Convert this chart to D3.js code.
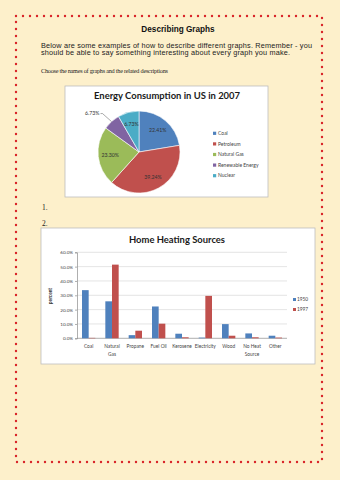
<!DOCTYPE html>
<html>
<head>
<meta charset="utf-8">
<script src="https://cdnjs.cloudflare.com/ajax/libs/d3/7.8.5/d3.min.js"></script>
<style>
  html, body { margin: 0; padding: 0; background: #fdf0cb; }
  svg { display: block; }
</style>
</head>
<body>
<svg id="page" width="340" height="480"></svg>
<script>
// pie data
var energySources = ["Coal", "Petroleum", "Natural Gas", "Renewable Energy", "Nuclear"];
var energyShares = [22.41, 39.24, 23.30, 6.73, 8.32];
var energyLabels = ["22.41%", "39.24%", "23.30%", "6.73%", "8.33%"];

// bar data
var heatCategories = ["Coal", "Natural Gas", "Propane", "Fuel Oil", "Kerosene", "Electricity", "Wood", "No Heat Source", "Other"];
var heatSeries = ["1950", "1997"];
var heat1950 = [33.6, 25.8, 2.2, 22.2, 3.2, 0.5, 9.9, 3.4, 1.8];
var heat1997 = [0.3, 51.4, 5.3, 10.2, 0.7, 29.6, 1.8, 0.7, 0.5];
var heatTicks = [0, 10, 20, 30, 40, 50, 60];

var svg = d3.select("#page");

// dotted red frame
svg.append("rect")
    .attr("x", 16).attr("y", 16)
    .attr("width", 306).attr("height", 446)
    .attr("fill", "none")
    .attr("stroke", "#d9262a")
    .attr("stroke-width", 2.4)
    .attr("stroke-linecap", "round")
    .attr("stroke-dasharray", "0 7");

// worksheet text
svg.append("text")
    .attr("x", 178).attr("y", 32)
    .attr("text-anchor", "middle")
    .attr("font-family", "Liberation Sans, Arial, sans-serif")
    .attr("font-weight", "bold")
    .attr("font-size", 8.2)
    .attr("fill", "#111")
    .text("Describing Graphs");

var intro = ["Below are some examples of how to describe different graphs. Remember - you",
             "should be able to say something interesting about every graph you make."];
svg.selectAll(".intro").data(intro).enter().append("text")
    .attr("class", "intro")
    .attr("x", 41)
    .attr("y", function(d, i) { return 47.5 + i * 7.6; })
    .attr("font-family", "Liberation Sans, Arial, sans-serif")
    .attr("font-size", 7.3)
    .attr("fill", "#222")
    .attr("textLength", function(d, i) { return i === 0 ? 271 : 249; })
    .attr("lengthAdjust", "spacing")
    .text(function(d) { return d; });

svg.append("text")
    .attr("x", 41).attr("y", 73)
    .attr("font-family", "Liberation Serif, Times New Roman, serif")
    .attr("font-size", 6.2)
    .attr("fill", "#222")
    .attr("textLength", 127)
    .attr("lengthAdjust", "spacing")
    .text("Choose the names of graphs and  the related descriptions");

svg.append("text")
    .attr("x", 42).attr("y", 210)
    .attr("font-family", "Liberation Serif, serif")
    .attr("font-size", 7.5)
    .attr("fill", "#222")
    .text("1.");

svg.append("text")
    .attr("x", 42).attr("y", 226)
    .attr("font-family", "Liberation Serif, serif")
    .attr("font-size", 7.5)
    .attr("fill", "#222")
    .text("2.");

// ---------- pie chart ----------
var pieBox = svg.append("g");
pieBox.append("rect")
    .attr("x", 65).attr("y", 86)
    .attr("width", 203).attr("height", 111)
    .attr("fill", "#fff")
    .attr("stroke", "#bdbdbd")
    .attr("stroke-width", 0.8);

pieBox.append("text")
    .attr("x", 167).attr("y", 99)
    .attr("text-anchor", "middle")
    .attr("font-family", "Lato, Open Sans, sans-serif")
    .attr("font-weight", "bold")
    .attr("font-size", 10.2)
    .attr("fill", "#1a1a1a")
    .attr("textLength", 146)
    .attr("lengthAdjust", "spacingAndGlyphs")
    .text("Energy Consumption in US in 2007");

var pieColors = d3.scaleOrdinal()
    .domain(energySources)
    .range(["#4f81bd", "#c0504d", "#9bbb59", "#8064a2", "#4bacc6"]);

var pieData = d3.pie().sort(null).value(function(d) { return d; })(energyShares);
var radius = 41;
var arc = d3.arc().innerRadius(0).outerRadius(radius);
var labelArc = d3.arc().innerRadius(29).outerRadius(29);

var pieG = pieBox.append("g").attr("transform", "translate(139,152)");

pieG.selectAll("path").data(pieData).enter().append("path")
    .attr("d", arc)
    .attr("fill", function(d, i) { return pieColors(energySources[i]); })
    .attr("stroke", "#fff")
    .attr("stroke-width", 0.6);

pieG.selectAll(".plabel").data(pieData).enter().append("text")
    .attr("class", "plabel")
    .filter(function(d, i) { return i !== 3; })
    .attr("transform", function(d) { return "translate(" + labelArc.centroid(d) + ")"; })
    .attr("text-anchor", "middle")
    .attr("dy", "0.35em")
    .attr("font-family", "Lato, sans-serif")
    .attr("font-size", 5.2)
    .attr("fill", "#333")
    .text(function(d, i) { return energyLabels[i]; });

// outside label for renewable
var ren = pieData[3];
var midA = (ren.startAngle + ren.endAngle) / 2;
var edge = [Math.sin(midA) * radius, -Math.cos(midA) * radius];
pieG.append("polyline")
    .attr("points", [edge, [edge[0] - 9, edge[1] - 8], [edge[0] - 11, edge[1] - 8]].join(" "))
    .attr("fill", "none")
    .attr("stroke", "#555")
    .attr("stroke-width", 0.5);
pieG.append("text")
    .attr("x", edge[0] - 12).attr("y", edge[1] - 8)
    .attr("text-anchor", "end")
    .attr("dy", "0.35em")
    .attr("font-family", "Lato, sans-serif")
    .attr("font-size", 5.2)
    .attr("fill", "#333")
    .text(energyLabels[3]);

var pieLegend = pieBox.selectAll(".pleg").data(energySources).enter().append("g")
    .attr("class", "pleg")
    .attr("transform", function(d, i) { return "translate(213," + (133.3 + i * 10.6) + ")"; });
pieLegend.append("rect")
    .attr("x", 0).attr("y", -1.6)
    .attr("width", 3.2).attr("height", 3.2)
    .attr("fill", function(d) { return pieColors(d); });
pieLegend.append("text")
    .attr("x", 5).attr("dy", "0.35em")
    .attr("font-family", "Lato, sans-serif")
    .attr("font-size", 5)
    .attr("fill", "#444")
    .text(function(d) { return d; });

// ---------- bar chart ----------
var barBox = svg.append("g");
barBox.append("rect")
    .attr("x", 41).attr("y", 228)
    .attr("width", 274).attr("height", 136)
    .attr("fill", "#fff")
    .attr("stroke", "#bdbdbd")
    .attr("stroke-width", 0.8);

barBox.append("text")
    .attr("x", 177).attr("y", 243)
    .attr("text-anchor", "middle")
    .attr("font-family", "Lato, Open Sans, sans-serif")
    .attr("font-weight", "bold")
    .attr("font-size", 9.6)
    .attr("fill", "#1a1a1a")
    .attr("textLength", 96)
    .attr("lengthAdjust", "spacingAndGlyphs")
    .text("Home Heating Sources");

var x0 = d3.scaleBand().domain(heatCategories).range([77, 287]);
var x1 = d3.scaleBand().domain(heatSeries).range([0, x0.bandwidth()]).paddingOuter(0.75);
var y = d3.scaleLinear().domain([0, 60]).range([338.3, 252.3]);
var barColors = d3.scaleOrdinal().domain(heatSeries).range(["#4f81bd", "#c0504d"]);

// grid
barBox.selectAll(".grid").data(heatTicks).enter().append("line")
    .attr("class", "grid")
    .attr("x1", 77).attr("x2", 287)
    .attr("y1", function(d) { return y(d); })
    .attr("y2", function(d) { return y(d); })
    .attr("stroke", function(d) { return d === 0 ? "#8c8c8c" : "#d9d9d9"; })
    .attr("stroke-width", 0.7);

var yAxis = d3.axisLeft(y)
    .tickValues(heatTicks)
    .tickSize(2)
    .tickFormat(function(d) { return d3.format(".1%")(d / 100); });
var yG = barBox.append("g").attr("transform", "translate(77,0)").call(yAxis);
yG.select(".domain").attr("stroke", "#8c8c8c").attr("stroke-width", 0.7);
yG.selectAll(".tick line").attr("stroke", "#8c8c8c").attr("stroke-width", 0.7);
yG.selectAll(".tick text")
    .attr("font-family", "Lato, sans-serif")
    .attr("font-size", 4.6)
    .attr("fill", "#444")
    .attr("x", -4);

barBox.append("text")
    .attr("transform", "translate(52,296) rotate(-90)")
    .attr("text-anchor", "middle")
    .attr("font-family", "Lato, sans-serif")
    .attr("font-weight", "bold")
    .attr("font-size", 4.8)
    .attr("fill", "#333")
    .text("percent");

var rows = heatCategories.map(function(c, i) {
    return { cat: c, vals: [{ s: "1950", v: heat1950[i] }, { s: "1997", v: heat1997[i] }] };
});

var groups = barBox.selectAll(".cat").data(rows).enter().append("g")
    .attr("class", "cat")
    .attr("transform", function(d) { return "translate(" + x0(d.cat) + ",0)"; });

groups.selectAll("rect").data(function(d) { return d.vals; }).enter().append("rect")
    .attr("x", function(d) { return x1(d.s); })
    .attr("width", x1.bandwidth())
    .attr("y", function(d) { return y(d.v); })
    .attr("height", function(d) { return y(0) - y(d.v); })
    .attr("fill", function(d) { return barColors(d.s); });

// category labels (two lines where needed)
var splitLabel = { "Natural Gas": ["Natural", "Gas"], "No Heat Source": ["No Heat", "Source"] };
var catText = barBox.selectAll(".clabel").data(heatCategories).enter().append("text")
    .attr("class", "clabel")
    .attr("x", function(d) { return x0(d) + x0.bandwidth() / 2; })
    .attr("y", 348)
    .attr("text-anchor", "middle")
    .attr("font-family", "Lato, sans-serif")
    .attr("font-size", 4.8)
    .attr("fill", "#444");
catText.selectAll("tspan")
    .data(function(d) { return splitLabel[d] || [d]; })
    .enter().append("tspan")
    .attr("x", function() { var p = this.parentNode.__data__; return x0(p) + x0.bandwidth() / 2; })
    .attr("dy", function(d, i) { return i === 0 ? 0 : 7.5; })
    .text(function(d) { return d; });

var barLegend = barBox.selectAll(".bleg").data(heatSeries).enter().append("g")
    .attr("class", "bleg")
    .attr("transform", function(d, i) { return "translate(293," + (299.5 + i * 10) + ")"; });
barLegend.append("rect")
    .attr("x", 0).attr("y", -1.5)
    .attr("width", 3).attr("height", 3)
    .attr("fill", function(d) { return barColors(d); });
barLegend.append("text")
    .attr("x", 4).attr("dy", "0.35em")
    .attr("font-family", "Lato, sans-serif")
    .attr("font-size", 4.8)
    .attr("fill", "#444")
    .text(function(d) { return d; });
</script>
</body>
</html>
